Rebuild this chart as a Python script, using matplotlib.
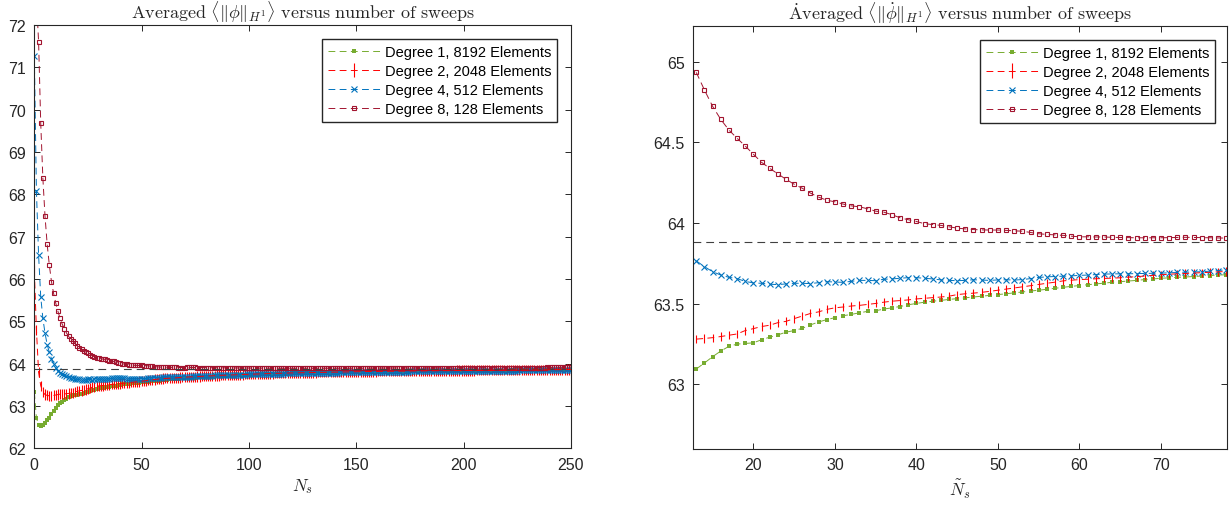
import numpy as np
import matplotlib
matplotlib.use("Agg")
import matplotlib.pyplot as plt
from matplotlib.ticker import FuncFormatter

# ==============================================================
# data
sweeps = np.arange(0, 251)          # N_s = 0 ... 250
RIGHT_FIRST, RIGHT_LAST = 13, 78    # zoomed window on the right panel
REF_VALUE = 63.88                   # dashed reference line
ERR_LEFT = 0.12                     # half-width of the Degree 2 error bars, left panel
ERR_RIGHT = 0.025                   # half-width of the Degree 2 error bars, right panel

labels = ["Degree 1, 8192 Elements", "Degree 2, 2048 Elements",
          "Degree 4, 512 Elements", "Degree 8, 128 Elements"]

deg1 = [
    63.33, 62.72, 62.55, 62.53, 62.55, 62.60, 62.66, 62.72, 62.80, 62.88,
    62.96, 63.03, 63.07, 63.096, 63.133, 63.172, 63.207, 63.236, 63.250, 63.254,
    63.258, 63.277, 63.293, 63.307, 63.324, 63.334, 63.348, 63.369, 63.387, 63.402,
    63.414, 63.426, 63.434, 63.444, 63.453, 63.457, 63.467, 63.475, 63.483, 63.494,
    63.502, 63.510, 63.516, 63.521, 63.527, 63.532, 63.537, 63.542, 63.547, 63.552,
    63.557, 63.562, 63.568, 63.573, 63.579, 63.584, 63.590, 63.596, 63.602, 63.608,
    63.613, 63.618, 63.623, 63.628, 63.633, 63.637, 63.641, 63.645, 63.650, 63.654,
    63.658, 63.661, 63.664, 63.666, 63.669, 63.672, 63.675, 63.678, 63.680, 63.683,
    63.686, 63.689, 63.692, 63.695, 63.698, 63.700, 63.703, 63.706, 63.708, 63.711,
    63.713, 63.716, 63.718, 63.720, 63.722, 63.725, 63.727, 63.729, 63.731, 63.733,
    63.735, 63.737, 63.739, 63.741, 63.743, 63.745, 63.747, 63.748, 63.750, 63.752,
    63.753, 63.755, 63.757, 63.758, 63.760, 63.761, 63.763, 63.764, 63.766, 63.767,
    63.769, 63.770, 63.771, 63.773, 63.774, 63.775, 63.777, 63.778, 63.779, 63.780,
    63.781, 63.782, 63.784, 63.785, 63.786, 63.787, 63.788, 63.789, 63.790, 63.791,
    63.792, 63.793, 63.794, 63.795, 63.796, 63.797, 63.797, 63.798, 63.799, 63.800,
    63.801, 63.802, 63.802, 63.803, 63.804, 63.805, 63.805, 63.806, 63.807, 63.808,
    63.808, 63.809, 63.810, 63.810, 63.811, 63.812, 63.812, 63.813, 63.814, 63.814,
    63.815, 63.815, 63.816, 63.817, 63.817, 63.818, 63.818, 63.819, 63.819, 63.820,
    63.821, 63.821, 63.822, 63.822, 63.823, 63.823, 63.824, 63.824, 63.825, 63.825,
    63.826, 63.826, 63.827, 63.827, 63.828, 63.828, 63.828, 63.829, 63.829, 63.830,
    63.830, 63.831, 63.831, 63.832, 63.832, 63.832, 63.833, 63.833, 63.834, 63.834,
    63.834, 63.835, 63.835, 63.836, 63.836, 63.836, 63.837, 63.837, 63.837, 63.838,
    63.838, 63.838, 63.839, 63.839, 63.839, 63.840, 63.840, 63.840, 63.841, 63.841,
    63.841, 63.842, 63.842, 63.842, 63.843, 63.843, 63.843, 63.843, 63.844, 63.844,
    63.844, 63.845, 63.845, 63.845, 63.845, 63.846, 63.846, 63.846, 63.847, 63.847,
    63.847]

deg2 = [
    66.20, 64.80, 63.80, 63.48, 63.33, 63.27, 63.25, 63.24, 63.24, 63.25,
    63.26, 63.27, 63.28, 63.281, 63.285, 63.290, 63.297, 63.305, 63.313, 63.334,
    63.346, 63.359, 63.367, 63.383, 63.391, 63.408, 63.424, 63.440, 63.450, 63.465,
    63.475, 63.480, 63.486, 63.490, 63.496, 63.502, 63.510, 63.516, 63.520, 63.524,
    63.530, 63.534, 63.538, 63.542, 63.547, 63.557, 63.562, 63.566, 63.571, 63.577,
    63.584, 63.591, 63.598, 63.605, 63.612, 63.620, 63.627, 63.634, 63.642, 63.646,
    63.650, 63.652, 63.655, 63.657, 63.659, 63.661, 63.665, 63.668, 63.672, 63.676,
    63.680, 63.683, 63.686, 63.688, 63.690, 63.693, 63.695, 63.698, 63.700, 63.703,
    63.706, 63.709, 63.712, 63.714, 63.717, 63.719, 63.722, 63.724, 63.726, 63.729,
    63.731, 63.733, 63.735, 63.737, 63.739, 63.741, 63.743, 63.745, 63.747, 63.749,
    63.751, 63.753, 63.754, 63.756, 63.758, 63.759, 63.761, 63.763, 63.764, 63.766,
    63.767, 63.769, 63.770, 63.772, 63.773, 63.774, 63.776, 63.777, 63.778, 63.780,
    63.781, 63.782, 63.783, 63.785, 63.786, 63.787, 63.788, 63.789, 63.790, 63.791,
    63.792, 63.793, 63.794, 63.795, 63.796, 63.797, 63.798, 63.799, 63.800, 63.801,
    63.802, 63.803, 63.804, 63.804, 63.805, 63.806, 63.807, 63.808, 63.808, 63.809,
    63.810, 63.811, 63.811, 63.812, 63.813, 63.814, 63.814, 63.815, 63.816, 63.816,
    63.817, 63.818, 63.818, 63.819, 63.820, 63.820, 63.821, 63.821, 63.822, 63.823,
    63.823, 63.824, 63.824, 63.825, 63.825, 63.826, 63.827, 63.827, 63.828, 63.828,
    63.829, 63.829, 63.830, 63.830, 63.831, 63.831, 63.832, 63.832, 63.833, 63.833,
    63.834, 63.834, 63.835, 63.835, 63.836, 63.836, 63.836, 63.837, 63.837, 63.838,
    63.838, 63.839, 63.839, 63.840, 63.840, 63.840, 63.841, 63.841, 63.842, 63.842,
    63.843, 63.843, 63.843, 63.844, 63.844, 63.845, 63.845, 63.845, 63.846, 63.846,
    63.847, 63.847, 63.847, 63.848, 63.848, 63.849, 63.849, 63.849, 63.850, 63.850,
    63.851, 63.851, 63.851, 63.852, 63.852, 63.853, 63.853, 63.853, 63.854, 63.854,
    63.855, 63.855, 63.856, 63.856, 63.857, 63.858, 63.859, 63.860, 63.861, 63.862,
    63.863]

deg4 = [
    71.27, 68.07, 66.57, 65.58, 65.07, 64.72, 64.45, 64.27, 64.12, 64.00,
    63.90, 63.83, 63.79, 63.766, 63.730, 63.699, 63.678, 63.664, 63.656, 63.639,
    63.629, 63.627, 63.621, 63.619, 63.623, 63.627, 63.627, 63.625, 63.631, 63.637,
    63.635, 63.633, 63.639, 63.645, 63.645, 63.643, 63.652, 63.654, 63.658, 63.662,
    63.662, 63.658, 63.654, 63.648, 63.645, 63.643, 63.645, 63.649, 63.647, 63.645,
    63.648, 63.649, 63.647, 63.650, 63.656, 63.663, 63.667, 63.669, 63.671, 63.673,
    63.676, 63.678, 63.681, 63.684, 63.685, 63.686, 63.686, 63.687, 63.688, 63.689,
    63.690, 63.692, 63.694, 63.696, 63.697, 63.699, 63.702, 63.706, 63.711, 63.713,
    63.715, 63.717, 63.719, 63.720, 63.722, 63.724, 63.726, 63.727, 63.729, 63.731,
    63.732, 63.734, 63.735, 63.737, 63.738, 63.740, 63.741, 63.743, 63.744, 63.746,
    63.747, 63.748, 63.750, 63.751, 63.752, 63.754, 63.755, 63.756, 63.757, 63.759,
    63.760, 63.761, 63.762, 63.763, 63.765, 63.766, 63.767, 63.768, 63.769, 63.770,
    63.771, 63.772, 63.773, 63.774, 63.775, 63.776, 63.777, 63.778, 63.779, 63.780,
    63.781, 63.782, 63.783, 63.784, 63.785, 63.786, 63.786, 63.787, 63.788, 63.789,
    63.790, 63.791, 63.792, 63.792, 63.793, 63.794, 63.795, 63.796, 63.796, 63.797,
    63.798, 63.799, 63.799, 63.800, 63.801, 63.802, 63.802, 63.803, 63.804, 63.805,
    63.805, 63.806, 63.807, 63.807, 63.808, 63.809, 63.809, 63.810, 63.811, 63.811,
    63.812, 63.813, 63.813, 63.814, 63.814, 63.815, 63.816, 63.816, 63.817, 63.817,
    63.818, 63.818, 63.819, 63.820, 63.820, 63.821, 63.821, 63.822, 63.822, 63.823,
    63.823, 63.824, 63.824, 63.825, 63.825, 63.826, 63.826, 63.827, 63.827, 63.828,
    63.828, 63.829, 63.829, 63.830, 63.830, 63.830, 63.831, 63.831, 63.832, 63.832,
    63.833, 63.833, 63.833, 63.834, 63.834, 63.835, 63.835, 63.835, 63.836, 63.836,
    63.837, 63.837, 63.837, 63.838, 63.838, 63.838, 63.839, 63.839, 63.839, 63.840,
    63.840, 63.840, 63.841, 63.841, 63.841, 63.842, 63.842, 63.842, 63.843, 63.843,
    63.843, 63.844, 63.844, 63.844, 63.845, 63.845, 63.845, 63.846, 63.846, 63.846,
    63.847]

deg8 = [
    75.00, 72.60, 71.61, 69.68, 68.38, 67.48, 66.82, 66.33, 65.94, 65.66,
    65.43, 65.24, 65.07, 64.934, 64.825, 64.724, 64.643, 64.577, 64.526, 64.478,
    64.427, 64.377, 64.340, 64.305, 64.272, 64.241, 64.216, 64.186, 64.161, 64.142,
    64.132, 64.118, 64.107, 64.101, 64.089, 64.074, 64.068, 64.052, 64.033, 64.021,
    64.010, 63.996, 63.991, 63.986, 63.977, 63.969, 63.964, 63.960, 63.958, 63.957,
    63.957, 63.955, 63.952, 63.950, 63.942, 63.934, 63.930, 63.927, 63.924, 63.919,
    63.915, 63.915, 63.914, 63.914, 63.912, 63.911, 63.910, 63.909, 63.909, 63.909,
    63.909, 63.910, 63.911, 63.912, 63.911, 63.910, 63.909, 63.908, 63.907, 63.906,
    63.906, 63.905, 63.905, 63.904, 63.904, 63.903, 63.903, 63.903, 63.902, 63.902,
    63.901, 63.901, 63.900, 63.900, 63.899, 63.899, 63.898, 63.898, 63.897, 63.897,
    63.897, 63.896, 63.896, 63.895, 63.895, 63.895, 63.894, 63.894, 63.894, 63.893,
    63.893, 63.893, 63.892, 63.892, 63.892, 63.891, 63.891, 63.891, 63.891, 63.890,
    63.890, 63.890, 63.890, 63.890, 63.889, 63.889, 63.889, 63.889, 63.889, 63.889,
    63.889, 63.889, 63.889, 63.889, 63.889, 63.889, 63.889, 63.889, 63.890, 63.890,
    63.890, 63.890, 63.890, 63.890, 63.891, 63.891, 63.891, 63.891, 63.892, 63.892,
    63.892, 63.893, 63.893, 63.893, 63.894, 63.894, 63.894, 63.895, 63.895, 63.895,
    63.896, 63.896, 63.896, 63.897, 63.897, 63.897, 63.898, 63.898, 63.898, 63.899,
    63.899, 63.899, 63.900, 63.900, 63.900, 63.900, 63.901, 63.901, 63.901, 63.901,
    63.902, 63.902, 63.902, 63.902, 63.902, 63.903, 63.903, 63.903, 63.903, 63.903,
    63.903, 63.904, 63.904, 63.904, 63.904, 63.904, 63.904, 63.904, 63.904, 63.905,
    63.905, 63.905, 63.905, 63.905, 63.905, 63.905, 63.905, 63.905, 63.905, 63.905,
    63.906, 63.906, 63.906, 63.906, 63.906, 63.906, 63.906, 63.906, 63.906, 63.906,
    63.906, 63.906, 63.906, 63.907, 63.907, 63.907, 63.907, 63.907, 63.907, 63.907,
    63.907, 63.908, 63.908, 63.908, 63.908, 63.908, 63.909, 63.909, 63.909, 63.910,
    63.910, 63.911, 63.911, 63.912, 63.913, 63.914, 63.915, 63.916, 63.917, 63.918,
    63.919]

for s in (deg1, deg2, deg4, deg8):
    assert len(s) == len(sweeps), len(s)

# ==============================================================
# Visualization
COLORS = ["#77AC30", "#FF0000", "#0072BD", "#A2142F"]
TEXTCOLOR = "#262626"
LINEWIDTH = 0.7
DASHES = (7, 4.5)
TICKSFONT = 11.5
TITLEFONT = 13
LEGENDFONT = 10.5

plt.rcParams["font.family"] = ["Liberation Sans", "DejaVu Sans"]
plt.rcParams["mathtext.fontset"] = "cm"
plt.rcParams["axes.linewidth"] = 0.8

f = plt.figure(figsize=(12.29, 5.06), dpi=100)
ax_l = f.add_axes([0.0279, 0.112, 0.4367, 0.8366])
ax_r = f.add_axes([0.5639, 0.1107, 0.4345, 0.8354])


def draw(ax, x, s1, s2, s4, s8, err, ms):
    h1, = ax.plot(x, s1, color=COLORS[0], ls="--", dashes=DASHES, lw=LINEWIDTH,
                  marker="s", ms=ms[0], mew=0)
    h2 = ax.errorbar(x, s2, yerr=err, color=COLORS[1], ls="--", dashes=DASHES,
                     lw=LINEWIDTH, elinewidth=0.8, capsize=0)
    h4, = ax.plot(x, s4, color=COLORS[2], ls="--", dashes=DASHES, lw=LINEWIDTH,
                  marker="x", ms=ms[1], mew=0.8)
    h8, = ax.plot(x, s8, color=COLORS[3], ls="--", dashes=DASHES, lw=LINEWIDTH,
                  marker="s", ms=ms[2], mfc="none", mew=0.8)
    ax.axhline(REF_VALUE, color="#404040", ls="--", dashes=DASHES, lw=0.8)
    ax.tick_params(direction="in", top=True, right=True, length=4,
                   width=0.7, colors=TEXTCOLOR, labelsize=TICKSFONT, pad=6)
    ax.yaxis.set_major_formatter(FuncFormatter(lambda v, p: "%g" % v))
    for sp in ax.spines.values():
        sp.set_color(TEXTCOLOR)
    return [h1, h2, h4, h8]


def add_legend(ax, handles, anchor):
    ax.legend(handles, labels, loc="upper right", bbox_to_anchor=anchor,
              borderaxespad=0, fancybox=False, framealpha=1, edgecolor=TEXTCOLOR,
              fontsize=LEGENDFONT, handlelength=3.6, handletextpad=0.3,
              labelspacing=0.35, borderpad=0.4)


# left panel: all sweeps
hl = draw(ax_l, sweeps, deg1, deg2, deg4, deg8, ERR_LEFT, (2.5, 5, 3.5))
ax_l.set_xlim(0, 250)
ax_l.set_ylim(62, 72)
ax_l.set_xticks(np.arange(0, 251, 50))
ax_l.set_yticks(np.arange(62, 73, 1))
ax_l.set_title(r"$\mathrm{Averaged}\ \langle\|\phi\|_{H^1}\rangle\ \mathrm{versus\ number\ of\ sweeps}$",
               fontsize=TITLEFONT, color=TEXTCOLOR, pad=5)
ax_l.set_xlabel(r"$N_s$", fontsize=12.5, color=TEXTCOLOR, labelpad=3)
add_legend(ax_l, hl, (0.974, 0.967))

# right panel: zoom on the window 13..78
sl = slice(RIGHT_FIRST, RIGHT_LAST + 1)
hr = draw(ax_r, sweeps[sl], deg1[sl], deg2[sl], deg4[sl], deg8[sl], ERR_RIGHT, (2.5, 5, 3.5))
ax_r.set_xlim(12.6, 78.1)
ax_r.set_ylim(62.6, 65.22)
ax_r.set_xticks(np.arange(20, 71, 10))
ax_r.set_yticks([63, 63.5, 64, 64.5, 65])
ax_r.set_title(r"$\mathrm{\dot{A}veraged}\ \langle\|\dot{\phi}\|_{H^1}\rangle\ \mathrm{versus\ number\ of\ sweeps}$",
               fontsize=TITLEFONT, color=TEXTCOLOR, pad=5)
ax_r.set_xlabel(r"$\tilde{N}_s$", fontsize=12.5, color=TEXTCOLOR, labelpad=3)
add_legend(ax_r, hr, (0.978, 0.968))

f.savefig("out.png", dpi=100)
